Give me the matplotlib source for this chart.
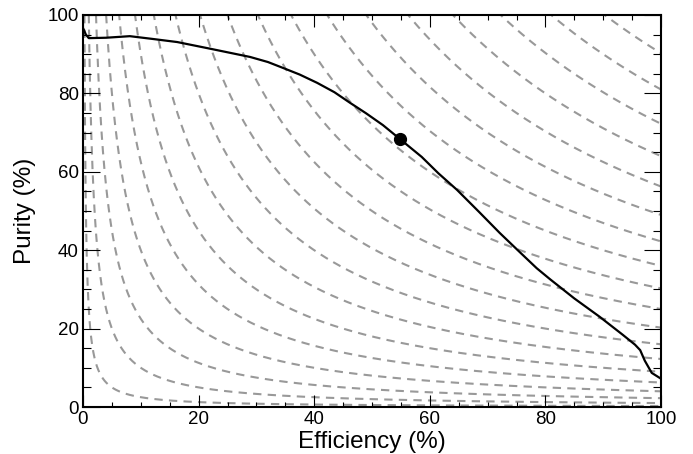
import numpy as np
import matplotlib.pyplot as plt
from matplotlib.ticker import MultipleLocator

plt.rcParams['font.family'] = ['Liberation Sans', 'DejaVu Sans']
plt.rcParams['lines.scale_dashes'] = False

# efficiency / purity curve
eff = [0.0, 0.5, 1.0, 4.0, 8.1, 12.0, 16.3, 22.0, 28.9, 32.0, 34.6, 37.5, 40.5,
       43.5, 46.2, 49.0, 51.9, 54.8, 58.6, 61.5, 64.7, 68.5, 72.1, 75.5,
       78.5, 80.8, 85.0, 89.4, 93.4, 95.5, 96.4, 97.2, 98.4, 99.8]
pur = [96.7, 95.0, 94.1, 94.2, 94.6, 93.9, 93.1, 91.4, 89.3, 88.0, 86.5, 84.8, 82.7,
       80.3, 77.6, 74.9, 71.9, 68.4, 63.8, 59.6, 55.4, 49.8, 44.4, 39.6,
       35.4, 32.6, 27.7, 23.0, 18.4, 15.9, 14.5, 11.8, 8.7, 7.4]

best_eff = 54.8
best_pur = 68.4

# iso lines of sqrt(eff * pur)
iso_levels = list(range(5, 100, 5))

fig = plt.figure(figsize=(6.93, 4.54), dpi=100)
ax = fig.add_axes([83 / 693, 1 - 407 / 454, 578 / 693, 392 / 454])

e = np.linspace(0.05, 100, 2000)
for g in iso_levels:
    p = g ** 2 / e
    ax.plot(e, np.where(p <= 101, p, np.nan), color='#999999', lw=1.5,
            dashes=(6, 4.5), zorder=1)

ax.plot(eff, pur, color='black', lw=1.6, zorder=3)
ax.plot(best_eff, best_pur, 'o', color='black', ms=8.5, zorder=4)

ax.set_xlim(0, 100)
ax.set_ylim(0, 100)
ax.xaxis.set_major_locator(MultipleLocator(20))
ax.xaxis.set_minor_locator(MultipleLocator(5))
ax.yaxis.set_major_locator(MultipleLocator(20))
ax.yaxis.set_minor_locator(MultipleLocator(5))
ax.tick_params(axis='both', which='both', direction='in', top=True, right=True,
               labelsize=13.5, width=0.8)
ax.tick_params(axis='x', which='major', length=8.6, pad=3)
ax.tick_params(axis='x', which='minor', length=3.6)
ax.tick_params(axis='y', which='major', length=12, pad=3)
ax.tick_params(axis='y', which='minor', length=5.8)
for s in ax.spines.values():
    s.set_linewidth(1.5)

ax.set_xlabel('Efficiency (%)', fontsize=17.5, labelpad=2)
ax.set_ylabel('Purity (%)', fontsize=17.5, labelpad=8)

fig.savefig('out.png', dpi=100)
